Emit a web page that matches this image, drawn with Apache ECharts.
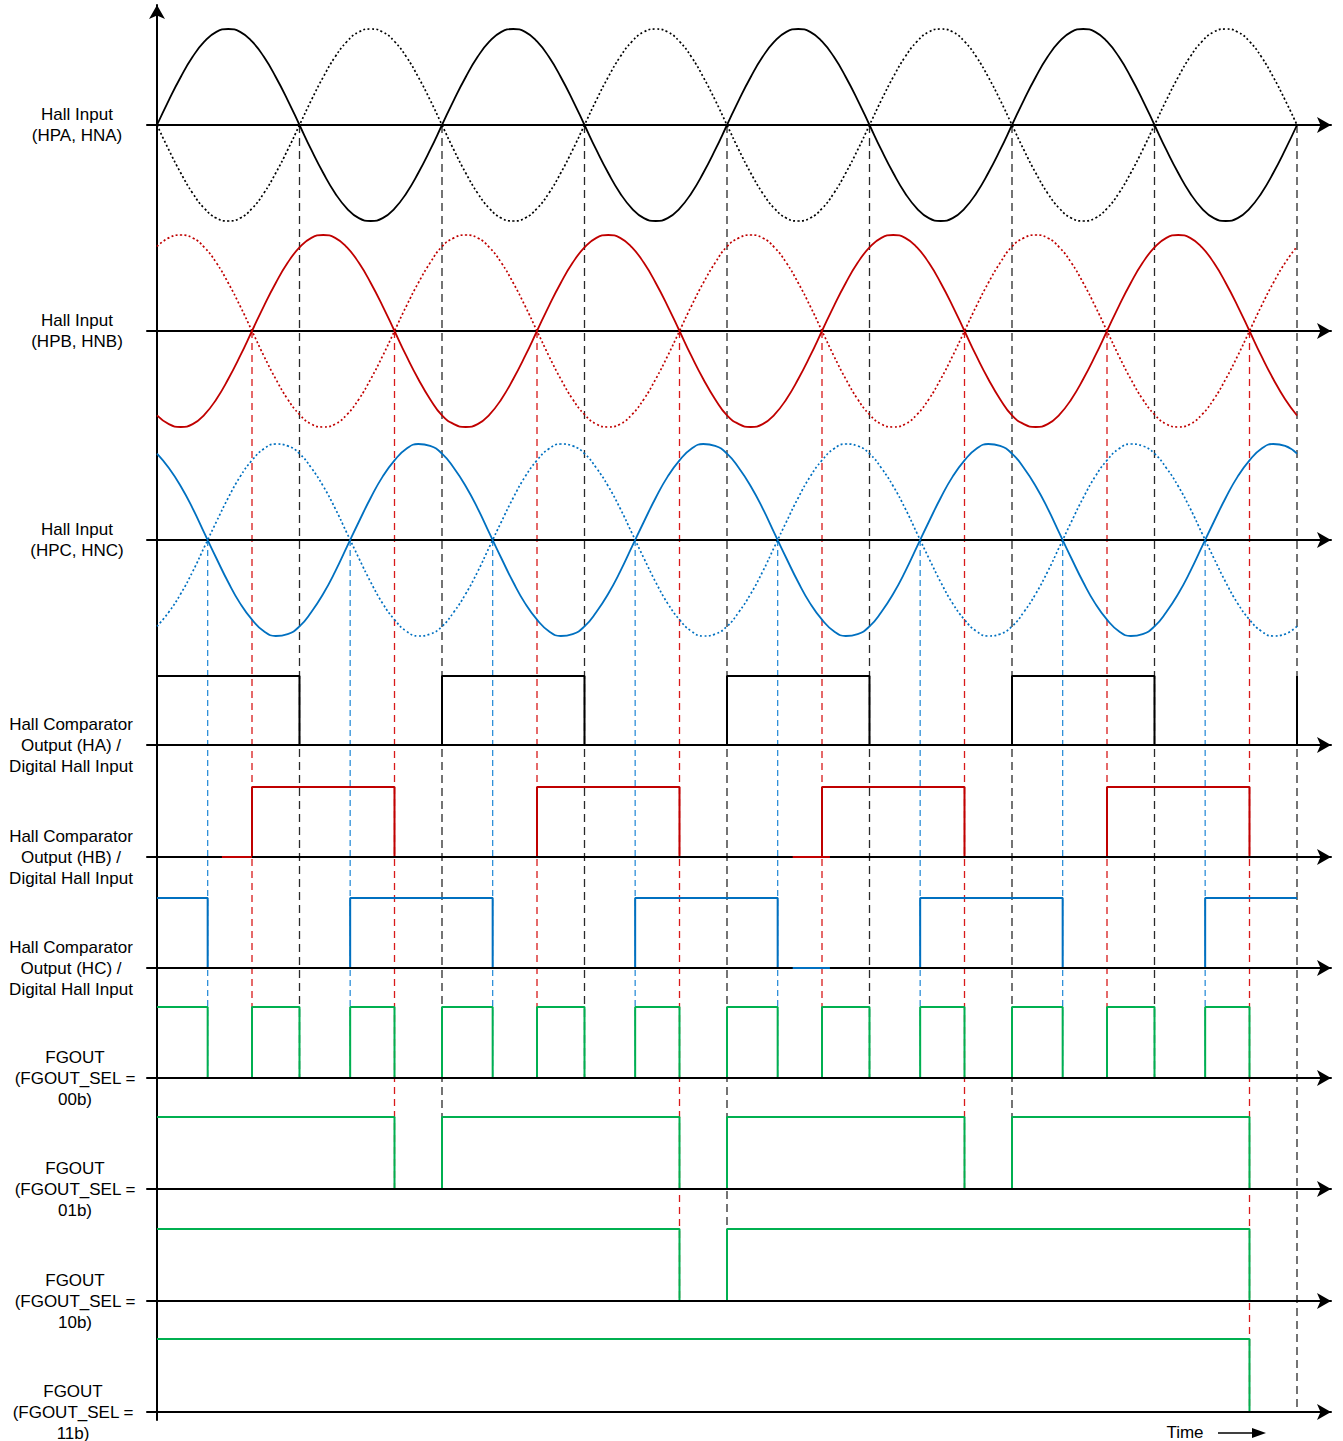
<!DOCTYPE html>
<html><head><meta charset="utf-8">
<script src="https://cdn.jsdelivr.net/npm/echarts@6/dist/echarts.min.js"></script>
<style>html,body{margin:0;padding:0;background:#fff}#c{width:1343px;height:1441px}</style>
</head><body><div id="c"></div>
<script>
// ================= DATA =================
// analog samples, one every 15 electrical degrees; one period,
// the trace shows four identical periods (0 .. 1440 deg)
const sampleStepDeg = 15;
const hpaPeriod = [0,0.26,0.5,0.71,0.87,0.97,1,0.97,0.87,0.71,0.5,0.26,
                   0,-0.26,-0.5,-0.71,-0.87,-0.97,-1,-0.97,-0.87,-0.71,-0.5,-0.26];
const hpbPeriod = [-0.88,-0.97,-1,-0.97,-0.87,-0.71,-0.5,-0.26,0,0.26,0.5,0.71,
                   0.87,0.97,1,0.97,0.87,0.71,0.5,0.26,0,-0.26,-0.5,-0.71];
const hpcPeriod = [0.9,0.75,0.56,0.33,0.07,-0.19,-0.44,-0.66,-0.83,-0.95,-1,-0.98,
                   -0.9,-0.75,-0.56,-0.33,-0.07,0.19,0.44,0.66,0.83,0.95,1,0.98];
const hpa = [...hpaPeriod, ...hpaPeriod, ...hpaPeriod, ...hpaPeriod, 0];
const hpb = [...hpbPeriod, ...hpbPeriod, ...hpbPeriod, ...hpbPeriod, -0.88];
const hpc = [...hpcPeriod, ...hpcPeriod, ...hpcPeriod, ...hpcPeriod, 0.9];
// complementary inputs (HN = -HP)
const hna = hpa.map(v => -v);
const hnb = hpb.map(v => -v);
const hnc = hpc.map(v => -v);

// digital waveforms: [angleDeg, level], step held until next point
const ha   = [[0,1],[180,0],[360,1],[540,0],[720,1],[900,0],[1080,1],[1260,0],[1440,1]];
const hb   = [[0,0],[120,1],[300,0],[480,1],[660,0],[840,1],[1020,0],[1200,1],[1380,0]];
const hc   = [[0,1],[64,0],[244,1],[424,0],[604,1],[784,0],[964,1],[1144,0],[1324,1],[1440,1]];
const fg00 = [[0,1],[64,0],[120,1],[180,0],[244,1],[300,0],[360,1],[424,0],[480,1],[540,0],
              [604,1],[660,0],[720,1],[784,0],[840,1],[900,0],[964,1],[1020,0],[1080,1],
              [1144,0],[1200,1],[1260,0],[1324,1],[1380,0]];
const fg01 = [[0,1],[300,0],[360,1],[660,0],[720,1],[1020,0],[1080,1],[1380,0]];
const fg10 = [[0,1],[660,0],[720,1],[1380,0]];
const fg11 = [[0,1],[1380,0]];
// short visible low-level pieces
const hbLowBits = [[[82,0],[120,0]], [[803,0],[850,0]]];
const hcLowBits = [[[803,0],[850,0]]];

// zero-crossing / edge angles, and which row each dashed guide runs down to
const haEdges = [180,360,540,720,900,1080,1260,1440];
const hbEdges = [120,300,480,660,840,1020,1200,1380];
const hcEdges = [64,244,424,604,784,964,1144,1324];
const haGuideEnd = [6,7,6,8,6,7,6,9];
const hbGuideEnd = [6,7,6,8,6,7,6,9];
const hcGuideEnd = [6,6,6,6,6,6,6,6];

const rowLabels = [
  'Hall Input\n(HPA, HNA)', 'Hall Input\n(HPB, HNB)', 'Hall Input\n(HPC, HNC)',
  'Hall Comparator\nOutput (HA) /\nDigital Hall Input',
  'Hall Comparator\nOutput (HB) /\nDigital Hall Input',
  'Hall Comparator\nOutput (HC) /\nDigital Hall Input',
  'FGOUT\n(FGOUT_SEL =\n00b)', 'FGOUT\n(FGOUT_SEL =\n01b)',
  'FGOUT\n(FGOUT_SEL =\n10b)', 'FGOUT\n(FGOUT_SEL =\n11b)'
];
const timeLabel = 'Time';

// ================= LAYOUT / STYLE =================
const PX_PER_DEG = 142.5 / 180;
const ORIGIN_X = 157, LEFT_PX = 147, RIGHT_PX = 1331, W = 1343, H = 1441;
const X_MIN = -(ORIGIN_X - LEFT_PX) / PX_PER_DEG;
const X_MAX = (RIGHT_PX - ORIGIN_X) / PX_PER_DEG;
const rowBase = [125,331,540,745,857,968,1078,1189,1301,1412];
const rowHigh = [null,null,null,676,787,898,1007,1117,1229,1339];
const AMP = 96;
const V_TOP = 5, V_BOTTOM = 1420;
const labelX = [77,77,77,71,71,71,75,75,75,73];
const FONT = '17px "Liberation Sans", Arial, sans-serif';
const C_BLACK = '#000000', C_RED = '#C00000', C_BLUE = '#0070C0', C_GREEN = '#00B050';
const G_BLACK = '#2a2a2a', G_RED = '#D81A1A', G_BLUE = '#2E8FD8';

const arrowAxisLine = {show:true, onZero:true, symbol:['none','arrow'], symbolSize:[12,14],
  lineStyle:{color:'#000', width:2}};

const grids = [], xAxes = [], yAxes = [], series = [];
for (let r = 0; r < 10; r++) {
  if (r < 3) grids.push({left: LEFT_PX, right: W - RIGHT_PX, top: rowBase[r] - AMP, height: 2*AMP});
  else grids.push({left: LEFT_PX, right: W - RIGHT_PX, top: rowHigh[r], height: rowBase[r] - rowHigh[r]});
  xAxes.push({gridIndex: r, type:'value', min: X_MIN, max: X_MAX, z: 3,
    axisLine: arrowAxisLine, axisTick:{show:false}, axisLabel:{show:false}, splitLine:{show:false}});
  yAxes.push({gridIndex: r, type:'value', min: r < 3 ? -1 : 0, max: 1, show:false});
}
// overlay grid for the vertical axis and dashed guides (y in layout pixels)
grids.push({left: LEFT_PX, right: W - RIGHT_PX, top: V_TOP, bottom: H - V_BOTTOM});
xAxes.push({gridIndex: 10, type:'value', min: X_MIN, max: X_MAX, show:false});
yAxes.push({gridIndex: 10, type:'value', min: V_TOP, max: V_BOTTOM, inverse: true,
  axisLine: {show:true, onZero:true, symbol:['none','arrow'], symbolSize:[12,14], lineStyle:{color:'#000', width:2}},
  axisTick:{show:false}, axisLabel:{show:false}, splitLine:{show:false}});

const toPts = arr => arr.map((v, i) => [i * sampleStepDeg, v]);
function analog(r, arr, color, dotted) {
  series.push({type:'line', xAxisIndex:r, yAxisIndex:r, data: toPts(arr), smooth: true,
    showSymbol:false, symbol:'none', clip:false, silent:true, z: dotted ? 2 : 3,
    lineStyle:{color, width: dotted ? 1.7 : 1.8, type: dotted ? [2,2.4] : 'solid'}});
}
analog(0, hpa, C_BLACK, false); analog(0, hna, C_BLACK, true);
analog(1, hpb, C_RED, false);   analog(1, hnb, C_RED, true);
analog(2, hpc, C_BLUE, false);  analog(2, hnc, C_BLUE, true);

function digital(r, data, color, z) {
  series.push({type:'line', xAxisIndex:r, yAxisIndex:r, data, step:'end',
    showSymbol:false, symbol:'none', clip:false, silent:true, z: z || 2,
    lineStyle:{color, width:2}});
}
digital(3, ha, C_BLACK); digital(4, hb, C_RED); digital(5, hc, C_BLUE);
digital(6, fg00, C_GREEN); digital(7, fg01, C_GREEN); digital(8, fg10, C_GREEN); digital(9, fg11, C_GREEN);
hbLowBits.forEach(d => digital(4, d, C_RED, 5));
hcLowBits.forEach(d => digital(5, d, C_BLUE, 5));

function guides(edges, ends, startRow, color, dash) {
  edges.forEach((x, i) => {
    series.push({type:'line', xAxisIndex:10, yAxisIndex:10, silent:true, z:1,
      data: [[x, rowBase[startRow]], [x, rowBase[ends[i]]]], showSymbol:false, symbol:'none', clip:false,
      lineStyle:{color, width:1.3, type: dash}});
  });
}
guides(haEdges, haGuideEnd, 0, G_BLACK, [8,5]);
guides(hbEdges, hbGuideEnd, 1, G_RED, [7,5]);
guides(hcEdges, hcGuideEnd, 2, G_BLUE, [6,4]);

const graphic = rowLabels.map((t, r) => ({type:'text', x: labelX[r], y: rowBase[r],
  style:{text: t, font: FONT, fill:'#000', textAlign:'center', textVerticalAlign:'middle', lineHeight:21}}));
graphic.push({type:'text', x: 1185, y: 1432, style:{text: timeLabel, font: FONT, fill:'#000',
  textAlign:'center', textVerticalAlign:'middle'}});
graphic.push({type:'line', shape:{x1:1218, y1:1433, x2:1255, y2:1433}, style:{stroke:'#000', lineWidth:1.5}});
graphic.push({type:'polygon', shape:{points:[[1266,1433],[1252,1428],[1252,1438]]}, style:{fill:'#000'}});

const chart = echarts.init(document.getElementById('c'), null, {renderer:'svg', width:W, height:H});
chart.setOption({animation:false, backgroundColor:'#fff', grid: grids, xAxis: xAxes, yAxis: yAxes,
  series, graphic});
</script></body></html>
